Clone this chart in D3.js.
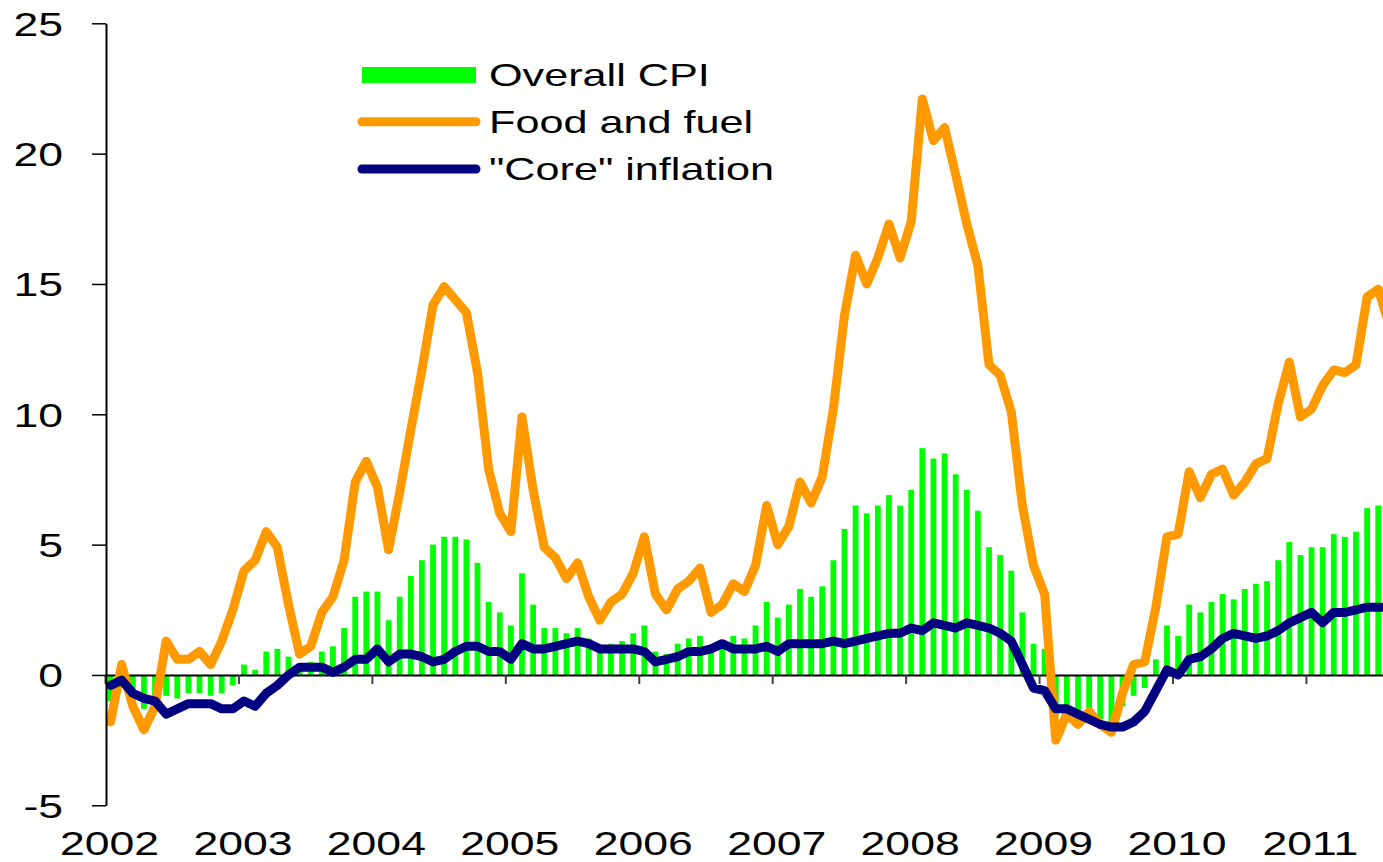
<!DOCTYPE html>
<html>
<head>
<meta charset="utf-8">
<script src="https://cdn.jsdelivr.net/npm/d3@7"></script>
<style>
  body { margin: 0; background: #fff; }
  svg { display: block; font-family: "Liberation Sans", Arial, sans-serif; }
</style>
</head>
<body>
<div id="chart"></div>
<script>
// Year labels on the x axis (one tick per January)
const years = ["2002", "2003", "2004", "2005", "2006", "2007", "2008", "2009", "2010", "2011"];
const yTicks = [-5, 0, 5, 10, 15, 20, 25];
const seriesNames = ["Overall CPI", "Food and fuel", "\"Core\" inflation"];

// Overall CPI, monthly from Jan 2002
const cpi = [
  -1.0, 0.0, -0.9, -1.3, -0.9, -0.8, -0.9, -0.7, -0.7, -0.8, -0.7, -0.4,
  0.4, 0.2, 0.9, 1.0, 0.7, 0.4, 0.5, 0.9, 1.1, 1.8, 3.0, 3.2,
  3.2, 2.1, 3.0, 3.8, 4.4, 5.0, 5.3, 5.3, 5.2, 4.3, 2.8, 2.4,
  1.9, 3.9, 2.7, 1.8, 1.8, 1.6, 1.8, 1.4, 1.0, 1.2, 1.3, 1.6,
  1.9, 0.9, 0.8, 1.2, 1.4, 1.5, 1.1, 1.3, 1.5, 1.4, 1.9, 2.8,
  2.2, 2.7, 3.3, 3.0, 3.4, 4.4, 5.6, 6.5, 6.2, 6.5, 6.9, 6.5,
  7.1, 8.7, 8.3, 8.5, 7.7, 7.1, 6.3, 4.9, 4.6, 4.0, 2.4, 1.2,
  1.0, -1.6, -1.3, -1.4, -1.5, -1.7, -1.9, -1.2, -0.8, -0.5, 0.6, 1.9,
  1.5, 2.7, 2.4, 2.8, 3.1, 2.9, 3.3, 3.5, 3.6, 4.4, 5.1, 4.6,
  4.9, 4.9, 5.4, 5.3, 5.5, 6.4, 6.5
];

// Food and fuel
const foodFuel = [
  -1.8, 0.4, -1.2, -2.1, -1.2, 1.3, 0.6, 0.6, 0.9, 0.4, 1.3, 2.5,
  4.0, 4.4, 5.5, 4.9, 2.7, 0.8, 1.1, 2.4, 3.0, 4.4, 7.4, 8.2,
  7.2, 4.8, 7.0, 9.4, 11.7, 14.2, 14.9, 14.4, 13.9, 11.6, 7.9, 6.2,
  5.5, 9.9, 7.1, 4.9, 4.5, 3.7, 4.3, 3.0, 2.1, 2.8, 3.1, 3.9,
  5.3, 3.1, 2.5, 3.3, 3.6, 4.1, 2.4, 2.7, 3.5, 3.2, 4.2, 6.5,
  5.0, 5.7, 7.4, 6.6, 7.6, 10.2, 13.8, 16.1, 15.0, 16.0, 17.3, 16.0,
  17.4, 22.1, 20.5, 21.0, 19.2, 17.3, 15.7, 11.9, 11.5, 10.1, 6.5, 4.2,
  3.1, -2.5, -1.5, -1.9, -1.4, -1.9, -2.2, -0.7, 0.4, 0.5, 2.6, 5.3,
  5.4, 7.8, 6.8, 7.7, 7.9, 6.9, 7.4, 8.1, 8.3, 10.4, 12.0, 9.9,
  10.2, 11.1, 11.7, 11.6, 11.9, 14.5, 14.8, 13.4
];

// "Core" inflation
const core = [
  -0.4, -0.2, -0.7, -0.9, -1.0, -1.5, -1.3, -1.1, -1.1, -1.1, -1.3, -1.3,
  -1.0, -1.2, -0.7, -0.4, 0.0, 0.3, 0.3, 0.3, 0.1, 0.3, 0.6, 0.6,
  1.0, 0.5, 0.8, 0.8, 0.7, 0.5, 0.6, 0.9, 1.1, 1.1, 0.9, 0.9,
  0.6, 1.2, 1.0, 1.0, 1.1, 1.2, 1.3, 1.2, 1.0, 1.0, 1.0, 1.0,
  0.9, 0.5, 0.6, 0.7, 0.9, 0.9, 1.0, 1.2, 1.0, 1.0, 1.0, 1.1,
  0.9, 1.2, 1.2, 1.2, 1.2, 1.3, 1.2, 1.3, 1.4, 1.5, 1.6, 1.6,
  1.8, 1.7, 2.0, 1.9, 1.8, 2.0, 1.9, 1.8, 1.6, 1.3, 0.4, -0.5,
  -0.6, -1.3, -1.3, -1.5, -1.7, -1.9, -2.0, -2.0, -1.8, -1.4, -0.6, 0.2,
  0.0, 0.6, 0.7, 1.0, 1.4, 1.6, 1.5, 1.4, 1.5, 1.7, 2.0, 2.2,
  2.4, 2.0, 2.4, 2.4, 2.5, 2.6, 2.6, 2.6
];

const colors = ["#00ff00", "#ff9900", "#000080"];

// Dimensions (the plot runs past the right edge, like the original)
const width = 1383, height = 862;
const plotLeft = 105, monthStep = 11.12;
const nMonths = foodFuel.length;
const textStretch = 1.35;

const svg = d3.select("#chart").append("svg")
    .attr("width", width)
    .attr("height", height);

// Scales
const xTime = d3.scaleLinear()
    .domain([0, nMonths])
    .range([plotLeft, plotLeft + nMonths * monthStep]);

const x = d3.scaleBand()
    .domain(d3.range(nMonths))
    .range(xTime.range())
    .paddingInner(0.48)
    .paddingOuter(0.24);

const y = d3.scaleLinear()
    .domain([-5, 25])
    .range([805.3, 23.3]);

// Bars
svg.append("g")
  .selectAll("rect")
  .data(cpi)
  .enter().append("rect")
    .attr("x", (d, i) => x(i))
    .attr("y", d => y(Math.max(0, d)))
    .attr("width", x.bandwidth())
    .attr("height", d => Math.abs(y(d) - y(0)))
    .attr("fill", colors[0]);

// Zero line with year ticks
const xAxis = svg.append("g")
    .attr("transform", `translate(0,${y(0)})`)
    .call(d3.axisBottom(xTime)
        .tickValues(d3.range(0, years.length * 12, 12))
        .tickSize(9)
        .tickSizeOuter(0)
        .tickFormat(""));
xAxis.select(".domain").attr("stroke", "#000").attr("stroke-width", 2);
xAxis.selectAll(".tick line").attr("stroke", "#404040").attr("stroke-width", 2);

// Lines
const line = d3.line()
    .x((d, i) => x(i) + x.bandwidth() / 2)
    .y(d => y(d));

[foodFuel, core].forEach((series, k) => {
  svg.append("path")
      .datum(series)
      .attr("fill", "none")
      .attr("stroke", colors[k + 1])
      .attr("stroke-width", 9)
      .attr("stroke-linejoin", "round")
      .attr("stroke-linecap", "round")
      .attr("d", line);
});

// Y axis
const yAxis = svg.append("g")
    .attr("transform", "translate(106,0)")
    .call(d3.axisLeft(y)
        .tickValues(yTicks)
        .tickSize(14)
        .tickSizeOuter(0)
        .tickFormat(d => String(d)));
yAxis.attr("font-family", null).attr("font-size", null);
yAxis.select(".domain").attr("stroke", "#000").attr("stroke-width", 2);
yAxis.selectAll(".tick line").attr("stroke", "#000").attr("stroke-width", 1.5);
yAxis.selectAll(".tick text")
    .attr("x", 0)
    .attr("dy", "0.36em")
    .attr("font-size", 33)
    .attr("fill", "#000")
    .attr("transform", `translate(-43,0) scale(${textStretch},1)`);

// Year labels
const yearAxis = svg.append("g")
    .attr("transform", "translate(4,855)")
    .call(d3.axisBottom(xTime)
        .tickValues(d3.range(0, years.length * 12, 12))
        .tickSize(0)
        .tickFormat((d, i) => years[i]));
yearAxis.attr("font-family", null).attr("font-size", null);
yearAxis.select(".domain").remove();
yearAxis.selectAll(".tick text")
    .attr("y", 0)
    .attr("dy", 0)
    .attr("font-size", 33)
    .attr("fill", "#000")
    .attr("transform", `scale(${textStretch},1)`);

// Legend
const legend = svg.append("g")
    .attr("transform", "translate(362,0)");
const legendRows = [75, 121.7, 169];

seriesNames.forEach((name, i) => {
  const cy = legendRows[i];
  if (i === 0) {
    legend.append("rect")
        .attr("x", 0)
        .attr("y", cy - 8)
        .attr("width", 114)
        .attr("height", 16)
        .attr("fill", colors[0]);
  } else {
    legend.append("line")
        .attr("x1", 0).attr("x2", 114)
        .attr("y1", cy).attr("y2", cy)
        .attr("stroke", colors[i])
        .attr("stroke-width", 9)
        .attr("stroke-linecap", "round");
  }
  legend.append("text")
      .attr("transform", `translate(127,${cy + 11}) scale(${textStretch},1)`)
      .attr("font-size", 32)
      .text(name);
});
</script>
</body>
</html>
